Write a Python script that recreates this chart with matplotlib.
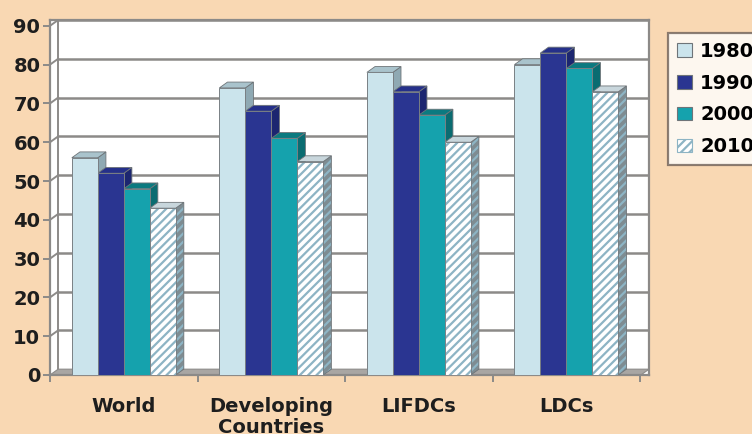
import matplotlib
matplotlib.use("Agg")
import matplotlib.pyplot as plt
from matplotlib.patches import Polygon, Patch
import numpy as np

categories = ["World", "Developing\nCountries", "LIFDCs", "LDCs"]
series_names = ["1980", "1990", "2000", "2010"]
v1980 = [56, 74, 78, 80]
v1990 = [52, 68, 73, 83]
v2000 = [48, 61, 67, 79]
v2010 = [43, 55, 60, 73]
yticks = [0, 10, 20, 30, 40, 50, 60, 70, 80, 90]

series = [v1980, v1990, v2000, v2010]
front_cols = ["#CBE4EC", "#2A3591", "#15A2AD", "#FFFFFF"]
side_cols = ["#8FA9B3", "#1C2670", "#0A6C71", "#7E8C92"]
top_cols = ["#A9C3CC", "#25308A", "#0B7A80", "#C8D6DC"]
hatches = [None, None, None, "////"]
hatch_cols = [None, None, None, "#8DB4C4"]

BG = "#F9D8B3"
plt.rcParams["font.family"] = ["DejaVu Sans"]
plt.rcParams["hatch.linewidth"] = 1.6

fig = plt.figure(figsize=(7.52, 4.34), dpi=100, facecolor=BG)
ax = fig.add_axes([50 / 752, 59 / 434, 599 / 752, 355 / 434])
ax.set_facecolor("white")
xmin, xmax = -0.5, 3.56
ymax = 91.5
ax.set_xlim(xmin, xmax)
ax.set_ylim(0, ymax)

dx, dy = 0.055, 1.5
w = 0.176
grid_c = "#8C8A88"

# back wall grid lines and left wall
for v in yticks[1:]:
    ax.plot([xmin + dx, xmax], [v + dy, v + dy], color=grid_c, lw=1.8, zorder=1)
    ax.plot([xmin, xmin + dx], [v, v + dy], color=grid_c, lw=1.4, zorder=1)
ax.plot([xmin + dx, xmin + dx], [dy, ymax], color=grid_c, lw=1.4, zorder=1)
# floor
ax.add_patch(Polygon([[xmin, 0], [xmax - dx, 0], [xmax, dy], [xmin + dx, dy]],
                     closed=True, facecolor="#A9A6A3", edgecolor="#8C8A88", lw=0.8, zorder=1))

n = len(series)
for gi in range(len(categories)):
    for si in range(n):
        v = series[si][gi]
        x0 = gi - n * w / 2 + si * w
        x1 = x0 + w
        hc = hatch_cols[si]
        # side
        side = Polygon([[x1, 0], [x1 + dx, dy], [x1 + dx, v + dy], [x1, v]], closed=True,
                       facecolor=side_cols[si], edgecolor=(hc if hc else side_cols[si]),
                       hatch=hatches[si], lw=0, zorder=3)
        ax.add_patch(side)
        ax.add_patch(Polygon([[x1, 0], [x1 + dx, dy], [x1 + dx, v + dy], [x1, v]], closed=True,
                             fill=False, edgecolor="#6E7478", lw=0.6, zorder=3))
        # top
        ax.add_patch(Polygon([[x0, v], [x1, v], [x1 + dx, v + dy], [x0 + dx, v + dy]], closed=True,
                             facecolor=top_cols[si], edgecolor="#6E7478", lw=0.6, zorder=3))
        # front
        ax.add_patch(Polygon([[x0, 0], [x1, 0], [x1, v], [x0, v]], closed=True,
                             facecolor=front_cols[si], edgecolor=(hc if hc else front_cols[si]),
                             hatch=hatches[si], lw=0, zorder=4))
        ax.add_patch(Polygon([[x0, 0], [x1, 0], [x1, v], [x0, v]], closed=True,
                             fill=False, edgecolor="#7A8084", lw=0.7, zorder=4))

for s in ax.spines.values():
    s.set_color("#8C8A88")
    s.set_linewidth(1.6)

ax.set_yticks(yticks)
ax.set_yticklabels([str(t) for t in yticks], fontsize=14, fontweight="bold", color="#1E1E1E")
ax.tick_params(axis="y", length=5, width=1.4, color="#8C8A88", pad=2)

ax.set_xticks(range(len(categories)))
ax.set_xticklabels(categories, fontsize=14, fontweight="bold", color="#1E1E1E", linespacing=1.1)
ax.tick_params(axis="x", length=0, pad=16)
ax.set_xticks([-0.5, 0.5, 1.5, 2.5, 3.5], minor=True)
ax.tick_params(axis="x", which="minor", length=5, width=1.4, color="#8C8A88")

handles = [Patch(facecolor=front_cols[i], edgecolor=(hatch_cols[i] if hatch_cols[i] else "#6E7478"),
                 hatch=hatches[i], lw=0.8) for i in range(n)]
leg = fig.legend(handles, series_names, loc="upper left", bbox_to_anchor=(668 / 752, 1 - 33 / 434),
                 prop={"size": 14, "weight": "bold"}, frameon=True, fancybox=False,
                 handlelength=0.8, handleheight=0.7, handletextpad=0.4, labelspacing=0.66,
                 borderpad=0.45, borderaxespad=0)
leg.get_frame().set_edgecolor("#6E6058")
leg.get_frame().set_linewidth(1.6)
leg.get_frame().set_facecolor("white")

fig.savefig("out.png", dpi=100, facecolor=BG)
